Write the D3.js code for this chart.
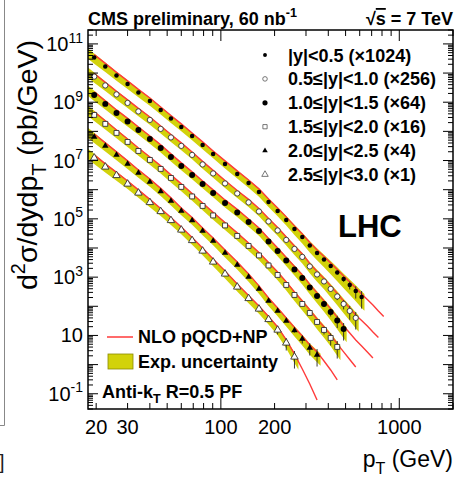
<!DOCTYPE html>
<html>
<head>
<meta charset="utf-8">
<script src="https://cdn.jsdelivr.net/npm/d3@7"></script>
<style>
  html, body { margin: 0; padding: 0; background: #fff; }
  svg { display: block; font-family: "Liberation Sans", Arial, Helvetica, sans-serif; }
</style>
</head>
<body>
<svg id="chart" width="464" height="478"></svg>
<script>
// Inclusive jet cross-section, anti-kT R=0.5 particle-flow jets, sqrt(s) = 7 TeV, 60 nb^-1

// pT bin centres and bin edges (GeV)
const ptBins = [19.5, 22.5, 26, 30, 34.5, 40, 46, 52.5, 60, 69, 79, 90.5, 105.5, 123.5, 143, 163.5,
  185, 208, 232.5, 258.5, 286, 315, 346, 378.5, 412.5, 449, 487.5, 527.5, 570, 615, 662, 711.5, 763.5, 818];
const ptEdges = [18, 21, 24, 28, 32, 37, 43, 49, 56, 64, 74, 84, 97, 114, 133, 153, 174, 196, 220, 245,
  272, 300, 330, 362, 395, 430, 468, 507, 548, 592, 638, 686, 737, 790, 846];

// rapidity bins and the factors each is multiplied by for display
const rapidityLabels = ["|y|<0.5", "0.5≤|y|<1.0", "1.0≤|y|<1.5", "1.5≤|y|<2.0", "2.0≤|y|<2.5", "2.5≤|y|<3.0"];
const scaleFactors = [1024, 256, 64, 16, 4, 1];

// measured d2sigma/dy dpT (pb/GeV), one value per pT bin starting at the first bin
const xsec_y0 = [3.31e7, 1.65e7, 8.11e6, 4.14e6, 2.12e6, 1.08e6, 5.31e5, 2.71e5, 1.39e5, 6.81e4,
  3.35e4, 1.64e4, 7.46e3, 3.39e3, 1.66e3, 817, 371, 182, 89.5, 44.0,
  23.4, 11.9, 6.60, 3.95, 2.36, 1.42, 0.847, 0.527, 0.328, 0.204];
const xsec_y1 = [2.95e7, 1.47e7, 7.23e6, 3.69e6, 1.89e6, 9.64e5, 4.74e5, 2.42e5, 1.24e5, 6.08e4,
  2.87e4, 1.41e4, 6.40e3, 2.90e3, 1.43e3, 700, 318, 156, 73.8, 36.2,
  19.3, 9.09, 4.83, 2.78, 1.54, 0.850, 0.470, 0.270, 0.156];
const xsec_y2 = [2.78e7, 1.37e7, 6.71e6, 3.43e6, 1.75e6, 8.60e5, 4.23e5, 2.08e5, 1.02e5, 5.01e4,
  2.46e4, 1.21e4, 5.48e3, 2.59e3, 1.22e3, 600, 262, 124, 58.4, 28.7,
  14.7, 6.92, 3.54, 1.88, 1.00, 0.511, 0.261];
const xsec_y3 = [2.29e7, 1.13e7, 5.53e6, 2.71e6, 1.33e6, 6.55e5, 3.22e5, 1.58e5, 7.76e4, 3.66e4,
  1.73e4, 8.17e3, 3.71e3, 1.62e3, 735, 347, 157, 74.3, 33.7, 15.3,
  7.52, 3.69, 1.81, 0.964, 0.513, 0.252];
const xsec_y4 = [1.61e7, 7.92e6, 3.89e6, 1.91e6, 9.38e5, 4.61e5, 2.18e5, 1.03e5, 4.66e4, 2.20e4,
  9.61e3, 4.36e3, 1.69e3, 655, 254, 98.4, 38.1, 17.3, 7.86, 3.71,
  1.89, 0.931, 0.536];
const xsec_y5 = [1.23e7, 6.03e6, 3.08e6, 1.57e6, 7.73e5, 3.65e5, 1.79e5, 8.81e4, 4.16e4, 1.81e4,
  7.91e3, 3.32e3, 1.29e3, 461, 186, 81.0, 35.4, 15.4, 5.53, 1.83];

// relative statistical uncertainty of the last few points of each rapidity bin
const stat_y0 = [0.10, 0.15, 0.20, 0.30, 0.45, 0.60];
const stat_y1 = [0.10, 0.15, 0.25, 0.35, 0.50, 0.60];
const stat_y2 = [0.12, 0.20, 0.30, 0.45, 0.60];
const stat_y3 = [0.12, 0.20, 0.30, 0.45, 0.60];
const stat_y4 = [0.15, 0.30, 0.45, 0.60];
const stat_y5 = [0.15, 0.30, 0.45, 0.60];

// NLO pQCD x non-perturbative corrections (pb/GeV) at the bin centres
const nlo_y0 = [4.2e7, 2.1e7, 1.03e7, 5.25e6, 2.69e6, 1.37e6, 6.7e5, 3.44e5, 1.76e5, 8.6e4,
  4.25e4, 2.08e4, 9.5e3, 4.3e3, 2.1e3, 1.04e3, 470, 231, 114, 56,
  29.7, 15.1, 8.4, 5.0, 3.0, 1.8, 1.07, 0.67, 0.416, 0.259, 0.168, 0.1086, 0.0676, 0.0438];
const nlo_y1 = [3.75e7, 1.87e7, 9.2e6, 4.69e6, 2.40e6, 1.22e6, 6.0e5, 3.07e5, 1.57e5, 7.7e4,
  3.65e4, 1.79e4, 8.1e3, 3.68e3, 1.82e3, 889, 404, 198, 93.7, 46.0,
  24.5, 11.5, 6.13, 3.53, 1.96, 1.08, 0.597, 0.343, 0.198, 0.128, 0.0827, 0.0515, 0.0333];
const nlo_y2 = [3.53e7, 1.74e7, 8.5e6, 4.36e6, 2.22e6, 1.09e6, 5.37e5, 2.64e5, 1.30e5, 6.36e4,
  3.12e4, 1.54e4, 6.96e3, 3.29e3, 1.55e3, 762, 333, 157, 74.2, 36.4,
  18.7, 8.79, 4.50, 2.39, 1.27, 0.649, 0.331, 0.190, 0.1095, 0.0681, 0.0424, 0.0264];
const nlo_y3 = [2.91e7, 1.44e7, 7.0e6, 3.44e6, 1.69e6, 8.3e5, 4.09e5, 2.01e5, 9.9e4, 4.65e4,
  2.20e4, 1.04e4, 4.71e3, 2.06e3, 933, 441, 199, 94.4, 42.8, 19.4,
  9.55, 4.69, 2.30, 1.22, 0.652, 0.320, 0.170, 0.0939, 0.0519];
const nlo_y4 = [2.04e7, 1.01e7, 4.94e6, 2.43e6, 1.19e6, 5.85e5, 2.77e5, 1.31e5, 5.92e4, 2.79e4,
  1.22e4, 5.54e3, 2.15e3, 832, 323, 125, 48.4, 22.0, 9.98, 4.71,
  2.40, 1.18, 0.681, 0.333, 0.1637, 0.0743];
const nlo_y5 = [1.56e7, 7.66e6, 3.91e6, 1.99e6, 9.82e5, 4.64e5, 2.27e5, 1.12e5, 5.28e4, 2.30e4,
  1.00e4, 4.22e3, 1.64e3, 585, 236, 103, 45.0, 19.6, 7.02, 2.32, 0.709, 0.217, 0.0612];

// relative experimental (systematic) uncertainty per pT bin
const expUnc = [0.38, 0.36, 0.34, 0.33, 0.32, 0.31, 0.30, 0.30, 0.29, 0.29,
  0.29, 0.29, 0.30, 0.30, 0.31, 0.32, 0.33, 0.34, 0.36, 0.38,
  0.40, 0.42, 0.44, 0.46, 0.48, 0.50, 0.52, 0.54, 0.56, 0.58];

// axis labels
const xTickLabels = [20, 30, 100, 200, 1000];
const yTickExponents = [-1, 1, 3, 5, 7, 9, 11];

const measured = [xsec_y0, xsec_y1, xsec_y2, xsec_y3, xsec_y4, xsec_y5];
const theory = [nlo_y0, nlo_y1, nlo_y2, nlo_y3, nlo_y4, nlo_y5];
const statErr = [stat_y0, stat_y1, stat_y2, stat_y3, stat_y4, stat_y5];

// marker style per rapidity bin
const markerStyle = [
  { type: d3.symbolCircle, size: 16, filled: true },
  { type: d3.symbolCircle, size: 22, filled: false },
  { type: d3.symbolCircle, size: 28, filled: true },
  { type: d3.symbolSquare, size: 24, filled: false },
  { type: d3.symbolTriangle, size: 18, filled: true },
  { type: d3.symbolTriangle, size: 24, filled: false }
];

const BAND = "#d2d20a";
const RED = "#ff3a3a";

const svg = d3.select("#chart");
const frame = { x0: 88, x1: 453, y0: 30, y1: 409 };
const x = d3.scaleLog().domain([18, 2000]).range([frame.x0, frame.x1]);
const y = d3.scaleLog().domain([0.03, 3e11]).range([frame.y1, frame.y0]);

// helper for text with super/subscripts
function richText(sel, parts, size) {
  let shift = 0;
  parts.forEach(p => {
    const ts = sel.append("tspan").text(p.t);
    const target = p.sup ? -0.42 * size : p.sub ? 0.3 * size : 0;
    if (target - shift !== 0) ts.attr("dy", target - shift);
    if (p.sup || p.sub) ts.attr("font-size", size * 0.7);
    shift = target;
  });
  return sel;
}

// neighbouring panel edge
svg.append("path").attr("d", "M4.5,0 V425.5 H0").attr("fill", "none")
  .attr("stroke", "#888").attr("stroke-width", 1);
svg.append("text").attr("x", -1).attr("y", 469).attr("font-size", 20).attr("fill", "#222").text("]");

svg.append("defs").append("clipPath").attr("id", "plotclip").append("rect")
  .attr("x", frame.x0).attr("y", frame.y0)
  .attr("width", frame.x1 - frame.x0).attr("height", frame.y1 - frame.y0);

const plot = svg.append("g").attr("clip-path", "url(#plotclip)");

// log-linear extension of a series to a bin edge
function extendTo(a, b, pt) {
  const s = Math.log(b.v / a.v) / Math.log(b.pt / a.pt);
  return { pt: pt, v: a.v * Math.pow(pt / a.pt, s), u: a.u };
}

// experimental uncertainty bands
measured.forEach((vals, k) => {
  const f = scaleFactors[k];
  const n = vals.length;
  const pts = vals.map((v, i) => ({ pt: ptBins[i], v: v * f, u: expUnc[i] }));
  const band = [extendTo(pts[0], pts[1], ptEdges[0]), ...pts, extendTo(pts[n - 1], pts[n - 2], ptEdges[n])];
  const area = d3.area()
    .x(d => x(d.pt))
    .y0(d => y(d.v * (1 - d.u)))
    .y1(d => y(d.v * (1 + d.u)));
  plot.append("path").datum(band).attr("d", area).attr("fill", BAND).attr("stroke", "none");
});

// theory curves
theory.forEach((vals, k) => {
  const f = scaleFactors[k];
  const line = d3.line().x((d, i) => x(ptBins[i])).y(d => y(d * f));
  plot.append("path").datum(vals).attr("d", line).attr("fill", "none")
    .attr("stroke", RED).attr("stroke-width", 1.4);
});

// data points with statistical error bars
measured.forEach((vals, k) => {
  const f = scaleFactors[k];
  const n = vals.length;
  const errs = statErr[k];
  const g = plot.append("g");
  vals.forEach((v, i) => {
    const j = i - (n - errs.length);
    if (j >= 0) {
      const e = errs[j];
      g.append("line")
        .attr("x1", x(ptBins[i])).attr("x2", x(ptBins[i]))
        .attr("y1", y(v * f * (1 - e))).attr("y2", y(v * f * (1 + e)))
        .attr("stroke", "#222").attr("stroke-width", 0.9);
    }
  });
  const st = markerStyle[k];
  const sym = d3.symbol().type(st.type).size(st.size);
  g.selectAll("path.m").data(vals).join("path")
    .attr("class", "m")
    .attr("d", sym)
    .attr("transform", (v, i) => `translate(${x(ptBins[i])},${y(v * f)})`)
    .attr("fill", st.filled ? "#000" : "#fff")
    .attr("stroke", st.filled ? "none" : "#333")
    .attr("stroke-width", 0.9);
});

// ticks
const ticks = svg.append("g").attr("stroke", "#000").attr("stroke-width", 1);
for (let e = -2; e <= 11; e++) {
  for (let m = 1; m <= 9; m++) {
    const v = m * Math.pow(10, e);
    if (v < 0.03 || v > 3e11) continue;
    const len = m === 1 ? 10 : 5;
    const py = y(v);
    ticks.append("line").attr("x1", frame.x0).attr("x2", frame.x0 + len).attr("y1", py).attr("y2", py);
    ticks.append("line").attr("x1", frame.x1).attr("x2", frame.x1 - len).attr("y1", py).attr("y2", py);
  }
}
for (let e = 1; e <= 3; e++) {
  for (let m = 1; m <= 9; m++) {
    const v = m * Math.pow(10, e);
    if (v < 18 || v > 2000) continue;
    const len = m === 1 ? 11 : 6;
    const px = x(v);
    ticks.append("line").attr("x1", px).attr("x2", px).attr("y1", frame.y1).attr("y2", frame.y1 - len);
    ticks.append("line").attr("x1", px).attr("x2", px).attr("y1", frame.y0).attr("y2", frame.y0 + len);
  }
}

// frame
svg.append("rect").attr("x", frame.x0).attr("y", frame.y0)
  .attr("width", frame.x1 - frame.x0).attr("height", frame.y1 - frame.y0)
  .attr("fill", "none").attr("stroke", "#000").attr("stroke-width", 1.5);

// tick labels
xTickLabels.forEach(v => {
  svg.append("text").attr("x", x(v)).attr("y", 434).attr("text-anchor", "middle")
    .attr("font-size", 20).text(v);
});
yTickExponents.forEach(e => {
  const t = svg.append("text").attr("x", 83).attr("y", y(Math.pow(10, e)) + 7)
    .attr("text-anchor", "end").attr("font-size", 20);
  if (e === 1) t.text("10");
  else richText(t, [{ t: "10" }, { t: String(e), sup: true }], 20);
});

// axis titles
richText(svg.append("text").attr("x", 453).attr("y", 467).attr("text-anchor", "end").attr("font-size", 23),
  [{ t: "p" }, { t: "T", sub: true }, { t: " (GeV)" }], 23);
richText(svg.append("text").attr("transform", "translate(37,165) rotate(-90)")
  .attr("text-anchor", "middle").attr("font-size", 28.5),
  [{ t: "d" }, { t: "2", sup: true }, { t: "σ/dydp" }, { t: "T", sub: true }, { t: " (pb/GeV)" }], 28.5);

// header
richText(svg.append("text").attr("x", 88).attr("y", 25).attr("font-size", 18).attr("font-weight", "bold"),
  [{ t: "CMS preliminary, 60 nb" }, { t: "-1", sup: true }], 18);
const rs = svg.append("text").attr("x", 453).attr("y", 25).attr("text-anchor", "end")
  .attr("font-size", 18).attr("font-weight", "bold");
rs.append("tspan").text("√");
rs.append("tspan").attr("text-decoration", "overline").text("s");
rs.append("tspan").text(" = 7 TeV");

// rapidity legend
const legY0 = 55, legStep = 23.9;
rapidityLabels.forEach((lab, k) => {
  const ly = legY0 + k * legStep;
  const st = markerStyle[k];
  svg.append("path").attr("d", d3.symbol().type(st.type).size(st.size * 0.75)())
    .attr("transform", `translate(265,${ly})`)
    .attr("fill", st.filled ? "#000" : "#fff")
    .attr("stroke", st.filled ? "none" : "#555").attr("stroke-width", 0.8);
  svg.append("text").attr("x", 288).attr("y", ly + 6.5).attr("font-size", 18).attr("font-weight", "bold")
    .text(`${lab} (×${scaleFactors[k]})`);
});

// LHC label
svg.append("text").attr("x", 338).attr("y", 237).attr("font-size", 31).attr("font-weight", "bold").text("LHC");

// theory / uncertainty legend
svg.append("line").attr("x1", 107).attr("x2", 133).attr("y1", 337).attr("y2", 337)
  .attr("stroke", RED).attr("stroke-width", 1.5);
svg.append("text").attr("x", 138).attr("y", 343).attr("font-size", 18).attr("font-weight", "bold")
  .text("NLO pQCD+NP");
svg.append("rect").attr("x", 108).attr("y", 354).attr("width", 25).attr("height", 15)
  .attr("fill", BAND).attr("stroke", "#8a8a00").attr("stroke-width", 0.8);
svg.append("text").attr("x", 138).attr("y", 368).attr("font-size", 18).attr("font-weight", "bold")
  .text("Exp. uncertainty");
richText(svg.append("text").attr("x", 102).attr("y", 398).attr("font-size", 18).attr("font-weight", "bold"),
  [{ t: "Anti-k" }, { t: "T", sub: true }, { t: " R=0.5 PF" }], 18);
</script>
</body>
</html>
